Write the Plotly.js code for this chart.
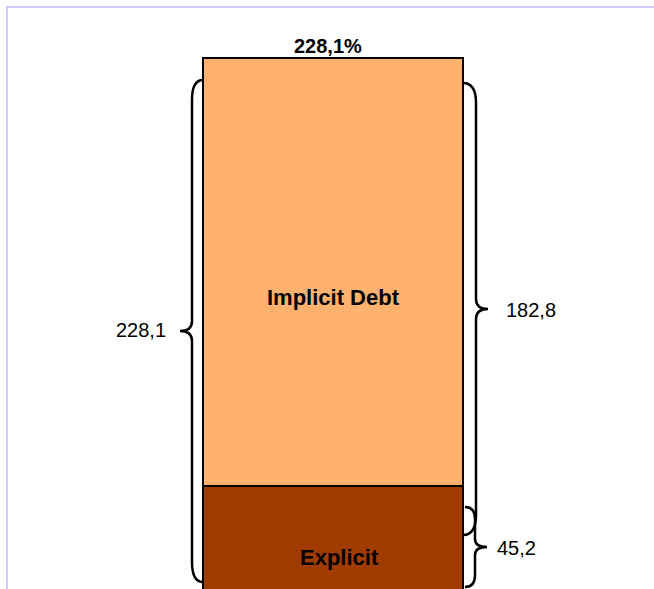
<!DOCTYPE html>
<html>
<head>
<meta charset="utf-8">
<script src="https://cdn.plot.ly/plotly-3.0.1.min.js"></script>
<style>html,body{margin:0;padding:0;background:#fff;}#chart{width:654px;height:589px;}</style>
</head>
<body>
<div id="chart"></div>
<script>
// ---- data ----
const categories = ['Explicit', 'Implicit Debt'];
const values = [45.2, 182.8];
const totalValue = 228.1;
const barColors = ['#A03C00', '#FFB26E'];

function fmt(v){ return v.toFixed(1).replace('.', ','); }

// ---- geometry helpers (pixel <-> data) ----
const W = 654, H = 589;
const barLeftPx = 203, barRightPx = 463, barTopPx = 58, barBottomPx = 592;
const pxPerX = barRightPx - barLeftPx;
const pxPerY = (barBottomPx - barTopPx) / totalValue;
function X(px){ return -0.5 + (px - barLeftPx) / pxPerX; }
function Y(px){ return (barBottomPx - px) / pxPerY; }

const traces = categories.map((c, i) => ({
  type: 'bar',
  x: [0],
  y: [values[i]],
  width: [1],
  name: c,
  marker: { color: barColors[i], line: { color: '#000', width: 2 } },
  hoverinfo: 'skip'
}));

// brace path builder: xe = end x (bar edge), xv = vertical line x, xt = tip x
function brace(xe, xv, xt, y1, y2, r, r2){
  const ym = (y1 + y2) / 2;
  const p = (x, y) => X(x) + ',' + Y(y);
  return 'M' + p(xe, y1) +
    ' Q' + p(xv, y1) + ' ' + p(xv, y1 + r) +
    ' L' + p(xv, ym - r2) +
    ' Q' + p(xv, ym) + ' ' + p(xt, ym) +
    ' Q' + p(xv, ym) + ' ' + p(xv, ym + r2) +
    ' L' + p(xv, y2 - r) +
    ' Q' + p(xv, y2) + ' ' + p(xe, y2);
}

const braceLine = { color: '#000', width: 2.5 };
const shapes = [
  // frame
  { type: 'line', xref: 'paper', yref: 'paper', x0: 6/W, x1: 1, y0: 1 - 7/H, y1: 1 - 7/H, line: { color: '#CCCCFF', width: 2 } },
  { type: 'line', xref: 'paper', yref: 'paper', x0: 7/W, x1: 7/W, y0: 0, y1: 1 - 7/H, line: { color: '#CCCCFF', width: 2 } },
  // braces
  { type: 'path', xref: 'x', yref: 'y', path: brace(203, 192, 180, 80, 582, 20, 10), line: braceLine },
  { type: 'path', xref: 'x', yref: 'y', path: brace(463, 476, 488, 83, 535, 20, 10), line: braceLine },
  { type: 'path', xref: 'x', yref: 'y', path: brace(465, 475, 487, 507, 587, 12, 8), line: braceLine }
];

const font = 'Liberation Sans, Arial, sans-serif';
const annotations = [
  { x: X(328), y: Y(46), text: '<b>' + fmt(totalValue) + '%</b>', showarrow: false, font: { family: font, size: 20, color: '#000' } },
  { x: X(333), y: Y(297), text: '<b>' + categories[1] + '</b>', showarrow: false, font: { family: font, size: 22, color: '#000' } },
  { x: X(339), y: Y(557), text: '<b>' + categories[0] + '</b>', showarrow: false, font: { family: font, size: 22, color: '#000' } },
  { x: X(168), y: Y(330), text: fmt(totalValue), xanchor: 'right', showarrow: false, font: { family: font, size: 20, color: '#000' } },
  { x: X(504), y: Y(310), text: fmt(values[1]), xanchor: 'left', showarrow: false, font: { family: font, size: 20, color: '#000' } },
  { x: X(495), y: Y(548), text: fmt(values[0]), xanchor: 'left', showarrow: false, font: { family: font, size: 20, color: '#000' } }
];

const layout = {
  width: W, height: H, autosize: false,
  margin: { l: 0, r: 0, t: 0, b: 0, pad: 0 },
  paper_bgcolor: '#fff', plot_bgcolor: '#fff',
  barmode: 'stack', showlegend: false,
  xaxis: { range: [X(0), X(W)], visible: false, fixedrange: true },
  yaxis: { range: [Y(H), Y(0)], visible: false, fixedrange: true },
  shapes: shapes,
  annotations: annotations
};

Plotly.newPlot('chart', traces, layout, { displayModeBar: false, staticPlot: true });
</script>
</body>
</html>
